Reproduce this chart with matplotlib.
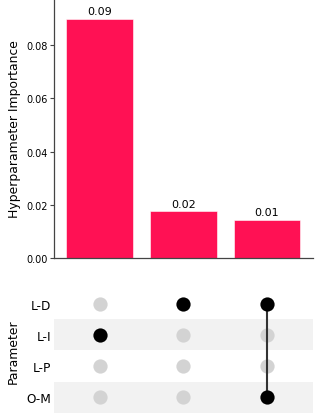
import matplotlib
matplotlib.use("Agg")
import matplotlib.pyplot as plt

# top bar chart: importance of each parameter combination
IMPORTANCE = [0.0898, 0.0175, 0.0143]
BAR_LABELS = ["0.09", "0.02", "0.01"]

# matrix: parameter rows and which ones are active per column
PARAMS = ["L-D", "L-I", "L-P", "O-M"]
COMBOS = [["L-I"], ["L-D"], ["L-D", "O-M"]]

BAR_COLOR = "#ff1154"
DOT_ON = "black"
DOT_OFF = "#d3d3d3"
BAND = "#f2f2f2"

fig = plt.figure(figsize=(3.23, 4.14), dpi=100)
ax = fig.add_axes([0.167, 0.3744, 0.802, 0.6256])
mx = fig.add_axes([0.167, 0.0, 0.802, 0.302])

xs = list(range(len(IMPORTANCE)))
ax.bar(xs, IMPORTANCE, width=0.8, color=BAR_COLOR, edgecolor="white", linewidth=0.4)
for x, v, lab in zip(xs, IMPORTANCE, BAR_LABELS):
    ax.annotate(lab, xy=(x, v), xytext=(0, 2), textcoords="offset points",
                ha="center", va="bottom", fontsize=8)
ax.set_xlim(-0.55, len(xs) - 0.45)
ax.set_ylim(0, 0.0973)
ax.set_yticks([0.0, 0.02, 0.04, 0.06, 0.08])
ax.set_yticklabels([f"{t:.2f}" for t in ax.get_yticks()], fontsize=7)
ax.set_xticks([])
ax.set_ylabel("Hyperparameter Importance", fontsize=8.9, labelpad=4)
for s in ("top", "right"):
    ax.spines[s].set_visible(False)
for s in ("left", "bottom"):
    ax.spines[s].set_color("#444444")
    ax.spines[s].set_linewidth(0.9)
ax.tick_params(axis="y", length=3, width=0.8, color="#444444", pad=1.5)

# matrix part
for i in range(len(PARAMS)):
    if i % 2 == 1:
        mx.axhspan(i - 0.5, i + 0.5, color=BAND, lw=0, zorder=0)
for j, combo in enumerate(COMBOS):
    rows_on = [PARAMS.index(p) for p in combo]
    if len(rows_on) > 1:
        mx.plot([j, j], [min(rows_on), max(rows_on)], color="#333333", lw=1.5, zorder=3)
    for i, p in enumerate(PARAMS):
        mx.scatter(j, i, s=105, color=DOT_ON if p in combo else DOT_OFF,
                   zorder=2 if p not in combo else 4, linewidths=0)
mx.set_xlim(-0.55, len(xs) - 0.45)
mx.set_ylim(len(PARAMS) - 0.5, -0.5)
mx.set_yticks(range(len(PARAMS)))
mx.set_yticklabels(PARAMS, fontsize=8.7)
mx.set_xticks([])
mx.tick_params(axis="y", length=0, pad=2)
mx.set_ylabel("Parameter", fontsize=8.9, labelpad=5)
for s in mx.spines.values():
    s.set_visible(False)

fig.savefig("out.png", dpi=100, facecolor="white")
